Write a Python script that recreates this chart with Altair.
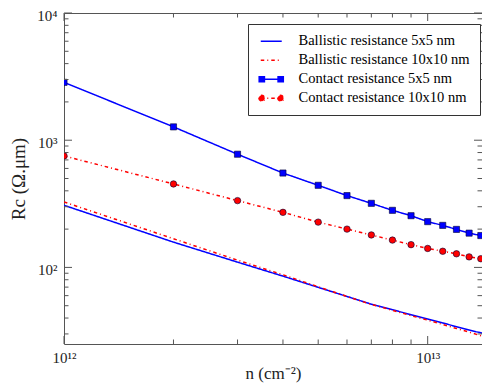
import altair as alt
import pandas as pd

# ---------------- data ----------------
n_vals = [1e12, 2e12, 3e12, 4e12, 5e12, 6e12, 7e12, 8e12, 9e12, 1e13,
          1.1e13, 1.2e13, 1.3e13, 1.4e13, 1.5e13]
ballistic_5 = [308, 158, 110, 85.4, 69.7, 59.1, 51.4, 46.5, 42.5, 39.3,
               36.6, 34.2, 32.2, 30.6, 29.2]
ballistic_10 = [327, 168, 114, 87.5, 70.5, 59.1, 51.2, 46.0, 41.8, 38.5,
                35.6, 33.1, 31.0, 29.0, 27.1]
contact_5 = [2850, 1273, 776, 552, 442, 367, 319, 281, 255, 229,
             214, 199, 186, 178, 170]
contact_10 = [752, 453, 335, 271, 227, 200, 180, 164, 151, 141,
              134, 128, 121, 117, 113]

series_names = ["Ballistic resistance 5x5 nm", "Ballistic resistance 10x10 nm",
                "Contact resistance 5x5 nm", "Contact resistance 10x10 nm"]
series_values = [ballistic_5, ballistic_10, contact_5, contact_10]

x_label_values = [1e12, 1e13]
x_label_text = ["10¹²", "10¹³"]
y_label_values = [1e2, 1e3, 1e4]
y_label_text = ["10²", "10³", "10⁴"]

x_major_ticks = [1e12, 1e13]
x_minor_ticks = [2e12, 3e12, 4e12, 5e12, 6e12, 7e12, 8e12, 9e12]
y_major_ticks = [1e2, 1e3, 1e4]
y_minor_ticks = [30, 40, 50, 60, 70, 80, 90,
                 200, 300, 400, 500, 600, 700, 800, 900,
                 2000, 3000, 4000, 5000, 6000, 7000, 8000, 9000]

x_domain = [1e12, 1.4105e13]
y_domain = [25, 1e4]

# ---------------- styling ----------------
FONT = "Liberation Serif"
BLUE = "#0000ff"
RED = "#ff0000"
DASHDOT = [3.5, 3, 1, 3]
W, H = 418, 331
MAJOR_LEN, MINOR_LEN = 8, 4.5
TICK_COLOR = "#555555"

rows = []
for name, vals in zip(series_names, series_values):
    for n, r in zip(n_vals, vals):
        rows.append({"n": n, "R": r, "series": name})
df = pd.DataFrame(rows)

xs = alt.Scale(type="log", domain=x_domain, nice=False)
ys = alt.Scale(type="log", domain=y_domain, nice=False)


def label_expr(values, texts):
    expr = "''"
    for v, t in zip(reversed(values), reversed(texts)):
        expr = f"abs(datum.value - {v:.0f}) < {v * 1e-6:.6f} ? '{t}' : ({expr})"
    return expr


x_axis = alt.Axis(
    title="n (cm⁻²)", values=x_label_values,
    labelExpr=label_expr(x_label_values, x_label_text),
    ticks=False, domain=False, grid=False, labelPadding=6,
    titlePadding=0, labelFlush=False, labelOverlap=False,
    labelFont=FONT, labelFontSize=15, titleFont=FONT, titleFontSize=17)
y_axis = alt.Axis(
    title="Rc (Ω.μm)", values=y_label_values,
    labelExpr=label_expr(y_label_values, y_label_text),
    ticks=False, domain=False, grid=False, labelPadding=7, labelOffset=2,
    titlePadding=8, labelFlush=False, labelOverlap=False,
    labelFont=FONT, labelFontSize=15, titleFont=FONT, titleFontSize=19)


def X(field):
    return alt.X(f"{field}:Q", scale=xs, axis=x_axis)


def Y(field):
    return alt.Y(f"{field}:Q", scale=ys, axis=y_axis)


base = alt.Chart(df)


def series_line(name, color, dash):
    return base.transform_filter(alt.datum.series == name).mark_line(
        color=color, strokeWidth=1.5, strokeDash=dash, clip=True
    ).encode(x=X("n"), y=Y("R"))


def series_points(name, color, shape, size):
    return base.transform_filter(alt.datum.series == name).mark_point(
        shape=shape, size=size, filled=True, fill=color, stroke="#000033",
        strokeWidth=0.6, opacity=1, clip=True
    ).encode(x=X("n"), y=Y("R"))


layers = [
    series_line(series_names[0], BLUE, [1, 0]),
    series_line(series_names[1], RED, DASHDOT),
    series_line(series_names[2], BLUE, [1, 0]),
    series_points(series_names[2], BLUE, "square", 38),
    series_line(series_names[3], RED, DASHDOT),
    series_points(series_names[3], RED, "circle", 42),
]

# ---------------- ticks (inward, matplotlib style) ----------------
def yticks(values, length):
    d = pd.DataFrame({"R": values})
    left = alt.Chart(d).mark_rule(color=TICK_COLOR, strokeWidth=1).encode(
        y=Y("R"), x=alt.value(0), x2=alt.value(length))
    right = alt.Chart(d).mark_rule(color=TICK_COLOR, strokeWidth=1).encode(
        y=Y("R"), x=alt.value(W - length), x2=alt.value(W))
    return [left, right]


def xticks(values, length):
    d = pd.DataFrame({"n": values})
    bottom = alt.Chart(d).mark_rule(color=TICK_COLOR, strokeWidth=1).encode(
        x=X("n"), y=alt.value(H - length), y2=alt.value(H))
    top = alt.Chart(d).mark_rule(color=TICK_COLOR, strokeWidth=1).encode(
        x=X("n"), y=alt.value(0), y2=alt.value(length))
    return [bottom, top]


tick_layers = (yticks(y_major_ticks, MAJOR_LEN) + yticks(y_minor_ticks, MINOR_LEN)
               + xticks(x_major_ticks, MAJOR_LEN) + xticks(x_minor_ticks, MINOR_LEN))

# ---------------- legend (driven by an empty layer) ----------------
line_path = "M-2,0L2,0"
sq_path = ("M-2,0L2,0"
           "M-2.3,-0.5L-1.3,-0.5L-1.3,0.5L-2.3,0.5Z"
           "M1.3,-0.5L2.3,-0.5L2.3,0.5L1.3,0.5Z")
circ_path = ("M-2,0L2,0"
             "M-2.35,0A0.55,0.55 0 1,0 -1.25,0A0.55,0.55 0 1,0 -2.35,0Z"
             "M1.25,0A0.55,0.55 0 1,0 2.35,0A0.55,0.55 0 1,0 1.25,0Z")

leg = alt.Legend(title=None, orient="none", legendX=184, legendY=11,
                 labelFont=FONT, labelFontSize=14.5, labelColor="black",
                 symbolSize=110, symbolStrokeWidth=1.5, symbolOpacity=1,
                 strokeColor="#333333", fillColor="white", padding=10,
                 rowPadding=4, labelOffset=20, symbolOffset=6,
                 cornerRadius=0, labelLimit=400)

legend_layer = base.transform_filter(alt.datum.R < 0).mark_point(filled=True).encode(
    x=X("n"),
    y=Y("R"),
    stroke=alt.Stroke("series:N", scale=alt.Scale(domain=series_names, range=[BLUE, RED, BLUE, RED]), legend=leg),
    fill=alt.Fill("series:N", scale=alt.Scale(domain=series_names, range=[BLUE, RED, BLUE, RED]), legend=leg),
    shape=alt.Shape("series:N", scale=alt.Scale(domain=series_names, range=[line_path, line_path, sq_path, circ_path]), legend=leg),
    strokeDash=alt.StrokeDash("series:N", scale=alt.Scale(domain=series_names, range=[[1, 0], DASHDOT, [1, 0], DASHDOT]), legend=leg),
)

chart = alt.layer(*layers, *tick_layers, legend_layer).properties(
    width=W, height=H,
    autosize=alt.AutoSizeParams(type="none"),
    padding={"left": 56, "top": 5, "right": 0, "bottom": 39},
    background="white",
).configure_view(stroke=TICK_COLOR, strokeWidth=1).configure_axis(
    labelColor="#222222", titleFontWeight="normal", titleColor="#222222",
).configure_legend(labelFont=FONT, labelFontSize=14.5)

chart.save("out.html", embed_options={"renderer": "svg", "actions": False})
